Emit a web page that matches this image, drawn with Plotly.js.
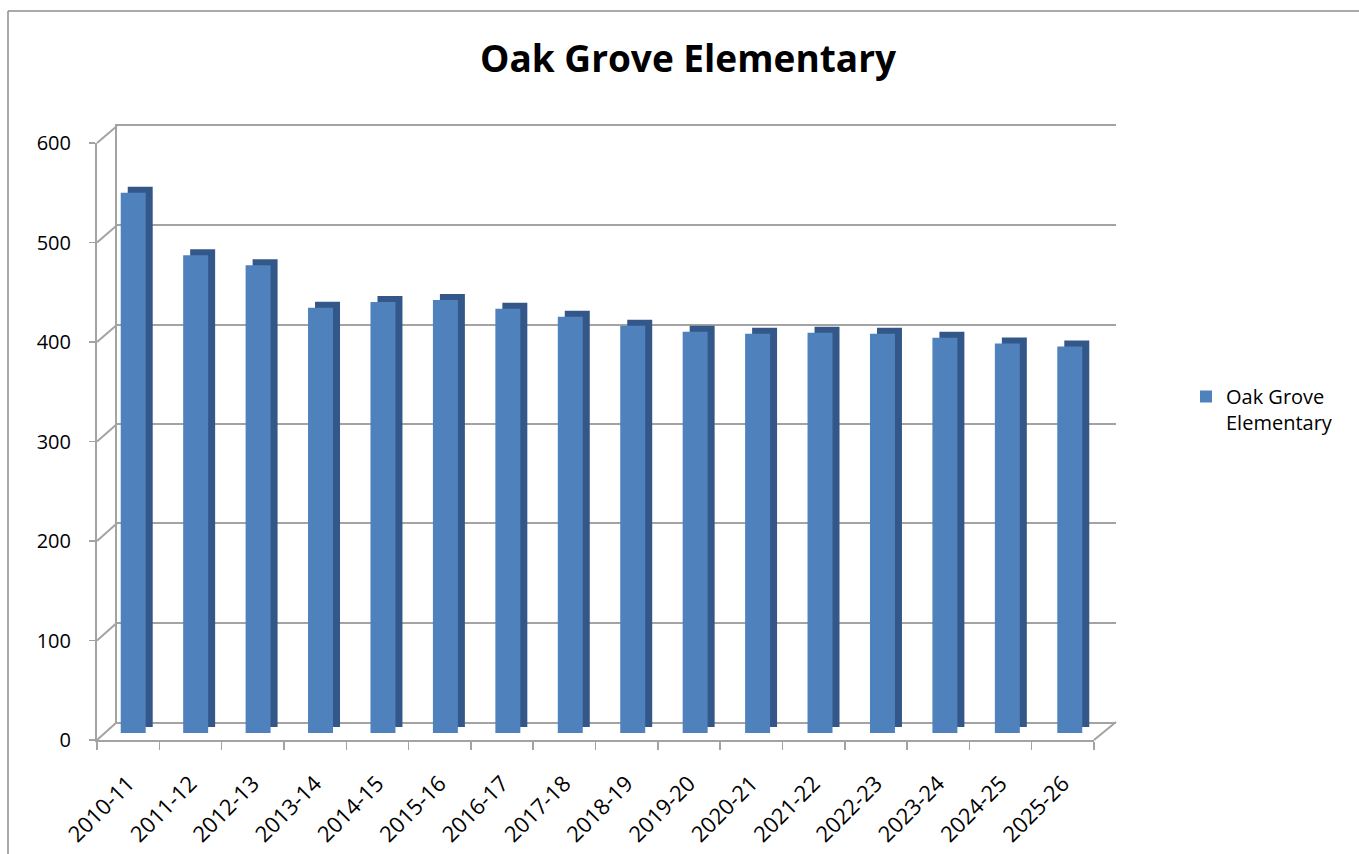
<!DOCTYPE html>
<html>
<head>
<meta charset="utf-8">
<script src="https://cdn.plot.ly/plotly-3.0.1.min.js"></script>
<style>
html,body{margin:0;padding:0;background:#fff;}
#chart{width:1359px;height:854px;}
</style>
</head>
<body>
<div id="chart"></div>
<script>
// ---- data ----
const categories = ['2010-11','2011-12','2012-13','2013-14','2014-15','2015-16','2016-17','2017-18',
                    '2018-19','2019-20','2020-21','2021-22','2022-23','2023-24','2024-25','2025-26'];
const enrollment = [544, 481, 471, 428, 434, 436, 427, 419, 410, 404, 402, 403, 402, 398, 392, 389];
const seriesName = 'Oak Grove<br>Elementary';
const yTicks = [0, 100, 200, 300, 400, 500, 600];
const chartTitle = 'Oak Grove Elementary';

// ---- layout helpers (pixel -> paper) ----
const W = 1359, H = 854;
const fx = p => p / W;
const fy = p => 1 - p / H;
const FONT = '"Open Sans", "DejaVu Sans", sans-serif';
const GRID = '#a3a3a3';

const frontColor = '#4f81bd';
const sideColor = '#34578a';

const traces = [
  { // invisible trace anchoring the back-wall grid
    type: 'scatter', x: [0, 1], y: [null, null], xaxis: 'x', yaxis: 'y',
    showlegend: false, hoverinfo: 'skip'
  },
  { // depth / side faces
    type: 'bar', x: categories, y: enrollment, xaxis: 'x2', yaxis: 'y2',
    marker: { color: sideColor, line: { width: 0 } }, width: 0.4,
    showlegend: false, hoverinfo: 'skip'
  },
  { // front faces
    type: 'bar', x: categories, y: enrollment, xaxis: 'x3', yaxis: 'y3',
    name: seriesName,
    marker: { color: frontColor, line: { width: 0 } }, width: 0.4,
    showlegend: true
  },
  { // invisible trace anchoring the front axes
    type: 'scatter', x: categories, y: enrollment.map(() => null), xaxis: 'x4', yaxis: 'y4',
    showlegend: false, hoverinfo: 'skip'
  }
];

// left-wall diagonals and floor corners
const yFront = v => 740 - v * (597 / 600);
const yBack = v => 722 - v * (596 / 600);
const shapes = [];
yTicks.forEach(v => {
  shapes.push({ type: 'line', xref: 'paper', yref: 'paper', layer: 'below',
    x0: fx(97), y0: fy(yFront(v)), x1: fx(117), y1: fy(yBack(v)),
    line: { color: GRID, width: 2 } });
});
shapes.push({ type: 'line', xref: 'paper', yref: 'paper', layer: 'below',
  x0: fx(1094), y0: fy(740), x1: fx(1116), y1: fy(722), line: { color: GRID, width: 2 } });
// outer chart border (top + left)
shapes.push({ type: 'line', xref: 'paper', yref: 'paper',
  x0: fx(8), y0: fy(11), x1: 1, y1: fy(11), line: { color: '#8c8c8c', width: 1.5 } });
shapes.push({ type: 'line', xref: 'paper', yref: 'paper',
  x0: fx(8), y0: fy(11), x1: fx(8), y1: 0, line: { color: '#8c8c8c', width: 1.5 } });

const hidden = { showgrid: false, zeroline: false, showticklabels: false, ticks: '', showline: false, fixedrange: true };

const layout = {
  width: W, height: H,
  margin: { l: 0, r: 0, t: 0, b: 0 },
  paper_bgcolor: '#fff', plot_bgcolor: 'rgba(0,0,0,0)',
  font: { family: FONT, color: '#000', size: 20 },
  title: { text: '<b>' + chartTitle + '</b>', font: { family: FONT, size: 37, color: '#000' },
           x: fx(688), xanchor: 'center', y: fy(59), yanchor: 'middle', xref: 'paper', yref: 'paper' },
  bargap: 0.6,
  showlegend: true,
  legend: { x: fx(1186), y: fy(377), xanchor: 'left', yanchor: 'top', valign: 'top',
            font: { family: FONT, size: 20, color: '#000' }, bgcolor: 'rgba(0,0,0,0)' },
  // back wall gridlines
  xaxis: Object.assign({}, hidden, { domain: [fx(117), fx(1116)], anchor: 'y',
           range: [0, 1], showline: true, mirror: true, linecolor: GRID, linewidth: 2 }),
  yaxis: Object.assign({}, hidden, { domain: [fy(722), fy(126)], anchor: 'x',
           range: [0, 600], tickvals: yTicks, showgrid: true, gridcolor: GRID, gridwidth: 2,
           showline: true, linecolor: GRID, linewidth: 2 }),
  // bar depth faces
  xaxis2: Object.assign({}, hidden, { domain: [fx(109), fx(1108)], anchor: 'y2',
           type: 'category', range: [-0.5, 15.5] }),
  yaxis2: Object.assign({}, hidden, { domain: [fy(727), fy(131)], anchor: 'x2', range: [0, 600] }),
  // bar front faces
  xaxis3: Object.assign({}, hidden, { domain: [fx(102), fx(1101)], anchor: 'y3',
           type: 'category', range: [-0.5, 15.5] }),
  yaxis3: Object.assign({}, hidden, { domain: [fy(733), fy(137)], anchor: 'x3', range: [0, 600] }),
  // front axes (visible ticks & labels)
  xaxis4: { domain: [fx(97), fx(1094)], anchor: 'y4', type: 'category', range: [-0.5, 15.5],
           showline: true, linecolor: GRID, linewidth: 2, ticks: 'outside', tickson: 'boundaries',
           ticklen: 8, tickcolor: GRID, tickwidth: 1.5, tickangle: -45, showgrid: false, zeroline: false,
           ticklabelstandoff: 20,
           tickfont: { family: FONT, size: 22, color: '#000' }, fixedrange: true },
  yaxis4: { domain: [fy(740), fy(143)], anchor: 'x4', range: [0, 600], tickvals: yTicks,
           showline: true, linecolor: GRID, linewidth: 2, ticks: 'outside', ticklen: 6, tickcolor: GRID,
           tickwidth: 1.5, showgrid: false, zeroline: false, ticklabelstandoff: 14,
           tickfont: { family: FONT, size: 20, color: '#000' }, fixedrange: true },
  shapes: shapes
};

Plotly.newPlot('chart', traces, layout, { displayModeBar: false, staticPlot: true });
</script>
</body>
</html>
